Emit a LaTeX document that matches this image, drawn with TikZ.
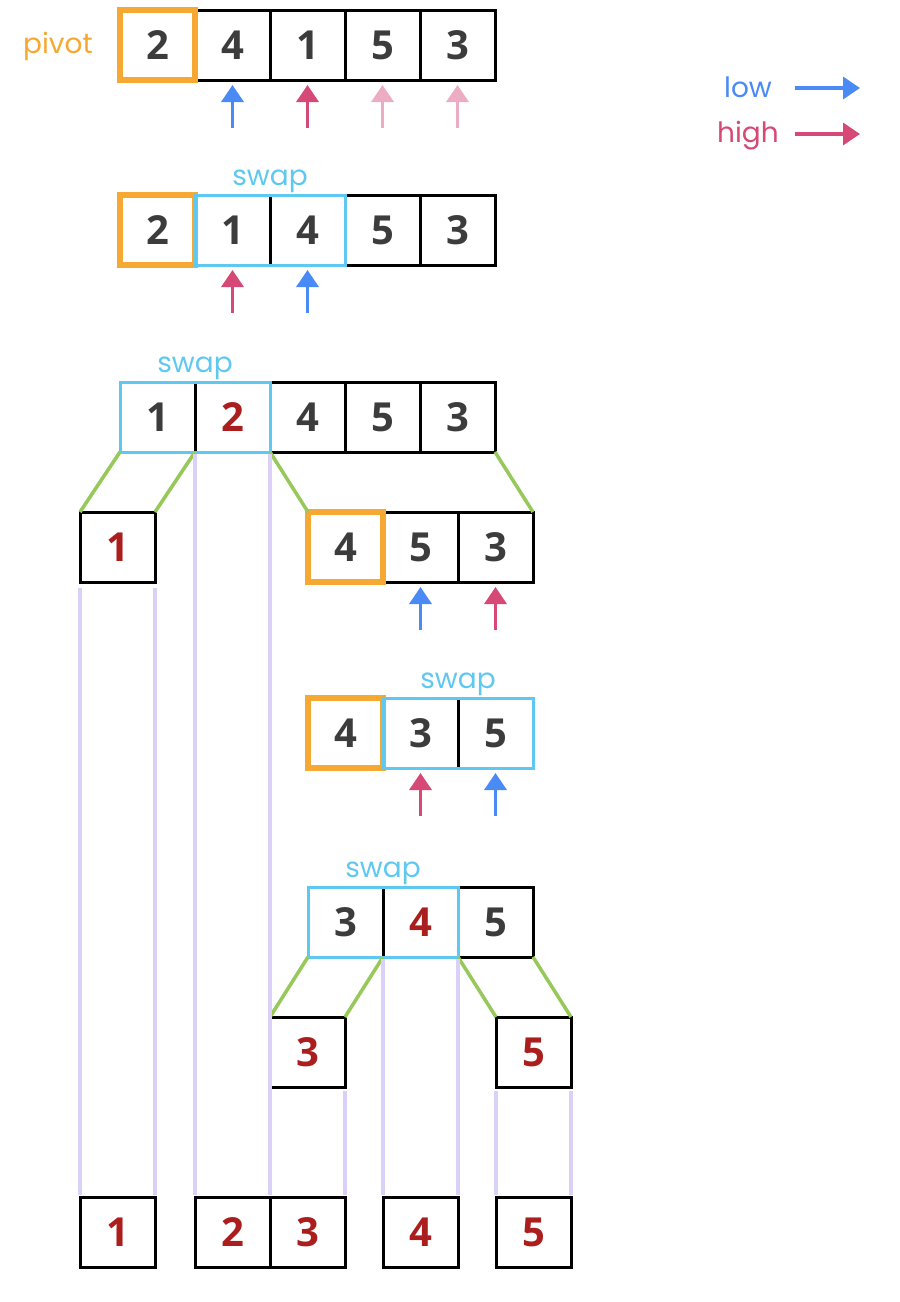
\documentclass[tikz,border=0pt]{standalone}
\usepackage{fontspec}
\setmainfont{Open Sans}
\newfontfamily\handfont{Poppins}
\usetikzlibrary{positioning,arrows.meta}
\definecolor{pivotorange}{RGB}{245,168,50}
\definecolor{lowblue}{RGB}{74,138,244}
\definecolor{highred}{RGB}{214,72,118}
\definecolor{faintpink}{RGB}{236,172,196}
\definecolor{swapblue}{RGB}{95,200,240}
\definecolor{splitgreen}{RGB}{150,200,90}
\definecolor{lavender}{RGB}{218,208,248}
\definecolor{digitgray}{RGB}{60,60,60}
\definecolor{donered}{RGB}{170,30,30}
\tikzset{
	cell/.style={draw=black,line width=3pt,minimum width=75pt,minimum height=70pt,inner sep=0pt,outer sep=0pt,text=digitgray,font=\fontsize{40}{40}\selectfont\bfseries},
	done/.style={cell,text=donered},
	pivotbox/.style={draw=pivotorange,line width=5.5pt},
	swapbox/.style={draw=swapblue,line width=3pt},
	handtext/.style={font=\handfont\fontsize{28}{28}\selectfont,inner sep=0pt},
	ptr/.style={line width=3.5pt,-{Triangle[width=22pt,length=17pt]}},
	split/.style={draw=splitgreen,line width=3.5pt},
	track/.style={draw=lavender,line width=4pt},
	node distance=0pt
}
\begin{document}
\begin{tikzpicture}[x=1pt,y=-1pt]
	\useasboundingbox (0,0) rectangle (900,1302);
	% first pass
	\node[cell] (a1) at (157.5,45) {2};
	\node[cell,right=of a1] (a2) {4};
	\node[cell,right=of a2] (a3) {1};
	\node[cell,right=of a3] (a4) {5};
	\node[cell,right=of a4] (a5) {3};
	\draw[pivotbox] (a1.south west) rectangle (a1.north east);
	\node[handtext,text=pivotorange,anchor=base] (pivottext) at (58,53) {pivot};
	\coordinate[below=48pt of a2.south] (ta2);
	\coordinate[below=48pt of a3.south] (ta3);
	\coordinate[below=48pt of a4.south] (ta4);
	\coordinate[below=48pt of a5.south] (ta5);
	\draw[ptr,lowblue] (ta2) -- ([yshift=-5pt]a2.south);
	\draw[ptr,highred] (ta3) -- ([yshift=-5pt]a3.south);
	\draw[ptr,faintpink] (ta4) -- ([yshift=-5pt]a4.south);
	\draw[ptr,faintpink] (ta5) -- ([yshift=-5pt]a5.south);
	% legend
	\node[handtext,text=lowblue,anchor=base] (lowtext) at (748,97) {low};
	\node[handtext,text=highred,anchor=base] (hightext) at (748,142) {high};
	\coordinate (lowa) at (795,88);
	\coordinate (lowb) at (860,88);
	\coordinate (higha) at (795,134);
	\coordinate (highb) at (860,134);
	\draw[ptr,lowblue] (lowa) -- (lowb);
	\draw[ptr,highred] (higha) -- (highb);
	% second pass
	\node[cell] (b1) at (157.5,230) {2};
	\node[cell,right=of b1] (b2) {1};
	\node[cell,right=of b2] (b3) {4};
	\node[cell,right=of b3] (b4) {5};
	\node[cell,right=of b4] (b5) {3};
	\draw[pivotbox] (b1.south west) rectangle (b1.north east);
	\draw[swapbox] (b2.south west) rectangle (b3.north east);
	\node[handtext,text=swapblue,anchor=base] (swapb) at ([yshift=10pt]b2.north east) {swap};
	\coordinate[below=48pt of b2.south] (tb2);
	\coordinate[below=48pt of b3.south] (tb3);
	\draw[ptr,highred] (tb2) -- ([yshift=-5pt]b2.south);
	\draw[ptr,lowblue] (tb3) -- ([yshift=-5pt]b3.south);
	% pivot placed
	\node[cell] (c1) at (157.5,417) {1};
	\node[done,right=of c1] (c2) {2};
	\node[cell,right=of c2] (c3) {4};
	\node[cell,right=of c3] (c4) {5};
	\node[cell,right=of c4] (c5) {3};
	\draw[swapbox] (c1.south west) rectangle (c2.north east);
	\node[handtext,text=swapblue,anchor=base] (swapc) at ([yshift=10pt]c1.north east) {swap};
	% left and right parts
	\node[done] (d1) at (117.5,547) {1};
	\node[cell] (d2) at (345.5,547) {4};
	\node[cell,right=of d2] (d3) {5};
	\node[cell,right=of d3] (d4) {3};
	\draw[pivotbox] (d2.south west) rectangle (d2.north east);
	\draw[split] (c1.south west) -- (d1.north west);
	\draw[split] (c1.south east) -- (d1.north east);
	\draw[split] (c2.south east) -- (d2.north west);
	\draw[split] (c5.south east) -- (d4.north east);
	\coordinate[below=48pt of d3.south] (td3);
	\coordinate[below=48pt of d4.south] (td4);
	\draw[ptr,lowblue] (td3) -- ([yshift=-5pt]d3.south);
	\draw[ptr,highred] (td4) -- ([yshift=-5pt]d4.south);
	% right part swapped
	\node[cell] (e1) at (345.5,733) {4};
	\node[cell,right=of e1] (e2) {3};
	\node[cell,right=of e2] (e3) {5};
	\draw[pivotbox] (e1.south west) rectangle (e1.north east);
	\draw[swapbox] (e2.south west) rectangle (e3.north east);
	\node[handtext,text=swapblue,anchor=base] (swape) at ([yshift=10pt]e2.north east) {swap};
	\coordinate[below=48pt of e2.south] (te2);
	\coordinate[below=48pt of e3.south] (te3);
	\draw[ptr,highred] (te2) -- ([yshift=-5pt]e2.south);
	\draw[ptr,lowblue] (te3) -- ([yshift=-5pt]e3.south);
	% right part pivot placed
	\node[cell] (f1) at (345.5,922) {3};
	\node[done,right=of f1] (f2) {4};
	\node[cell,right=of f2] (f3) {5};
	\draw[swapbox] (f1.south west) rectangle (f2.north east);
	\node[handtext,text=swapblue,anchor=base] (swapf) at ([yshift=10pt]f1.north east) {swap};
	\node[done] (g1) at (307.5,1052) {3};
	\node[done] (g2) at (533.5,1052) {5};
	\draw[split] (f1.south west) -- (g1.north west);
	\draw[split] (f1.south east) -- (g1.north east);
	\draw[split] (f2.south east) -- (g2.north west);
	\draw[split] (f3.south east) -- (g2.north east);
	% result
	\node[done] (h1) at (117.5,1232) {1};
	\node[done] (h2) at (232.5,1232) {2};
	\node[done,right=of h2] (h3) {3};
	\node[done] (h4) at (420.5,1232) {4};
	\node[done] (h5) at (533.5,1232) {5};
	\draw[track] ([yshift=-6pt]d1.south west) -- ([yshift=2pt]h1.north west);
	\draw[track] ([yshift=-6pt]d1.south east) -- ([yshift=2pt]h1.north east);
	\draw[track] ([yshift=-2pt]c2.south west) -- ([yshift=2pt]h2.north west);
	\draw[track] ([yshift=-2pt]c2.south east) -- ([yshift=2pt]h2.north east);
	\draw[track] ([yshift=-4pt]g1.south west) -- ([yshift=2pt]h3.north west);
	\draw[track] ([yshift=-4pt]g1.south east) -- ([yshift=2pt]h3.north east);
	\draw[track] ([yshift=-2pt]f2.south west) -- ([yshift=2pt]h4.north west);
	\draw[track] ([yshift=-2pt]f2.south east) -- ([yshift=2pt]h4.north east);
	\draw[track] ([yshift=-4pt]g2.south west) -- ([yshift=2pt]h5.north west);
	\draw[track] ([yshift=-4pt]g2.south east) -- ([yshift=2pt]h5.north east);
\end{tikzpicture}
\end{document}
